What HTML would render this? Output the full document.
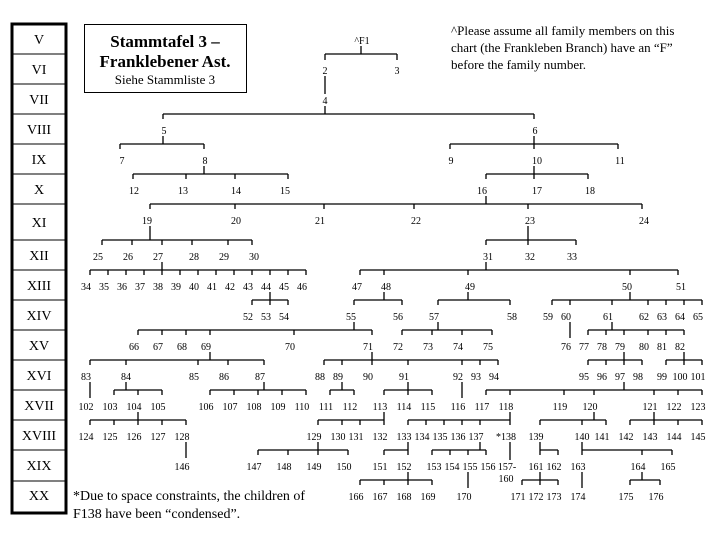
<!DOCTYPE html>
<html><head><meta charset="utf-8"><style>
html,body{margin:0;padding:0;background:#fff;width:720px;height:540px;overflow:hidden}
svg{display:block}
</style></head><body>
<svg width="720" height="540" viewBox="0 0 720 540" xmlns="http://www.w3.org/2000/svg">
<rect width="720" height="540" fill="#fff"/>
<!-- generation column -->
<rect x="12" y="24" width="54" height="489" fill="none" stroke="#000" stroke-width="3"/>
<path d="M12 54H66M12 84H66M12 114H66M12 144H66M12 174H66M12 204H66M12 240H66M12 270H66M12 300H66M12 330H66M12 360H66M12 390H66M12 420H66M12 450H66M12 481H66" stroke="#000" stroke-width="1"/>
<g font-family="Liberation Serif, serif" font-size="14" text-anchor="middle" fill="#000">
<text x="39" y="44">V</text><text x="39" y="74">VI</text><text x="39" y="104">VII</text><text x="39" y="134">VIII</text><text x="39" y="164">IX</text><text x="39" y="194">X</text><text x="39" y="227">XI</text><text x="39" y="260">XII</text><text x="39" y="290">XIII</text><text x="39" y="320">XIV</text><text x="39" y="350">XV</text><text x="39" y="380">XVI</text><text x="39" y="410">XVII</text><text x="39" y="440">XVIII</text><text x="39" y="470">XIX</text><text x="39" y="500">XX</text>
</g>
<!-- title -->
<rect x="84.5" y="24.5" width="162" height="68" fill="none" stroke="#000" stroke-width="1"/>
<g font-family="Liberation Serif, serif" text-anchor="middle" fill="#000">
<text x="165" y="47" font-size="17" font-weight="bold">Stammtafel 3 –</text>
<text x="165" y="67" font-size="17" font-weight="bold">Franklebener Ast.</text>
<text x="165" y="84" font-size="13">Siehe Stammliste 3</text>
</g>
<g font-family="Liberation Serif, serif" font-size="13" fill="#000">
<text x="451" y="35">^Please assume all family members on this</text>
<text x="451" y="52">chart (the Frankleben Branch) have an “F”</text>
<text x="451" y="69">before the family number.</text>
<text x="73" y="500" font-size="14">*Due to space constraints, the children of</text>
<text x="73" y="518" font-size="14">F138 have been “condensed”.</text>
</g>
<!-- connectors -->
<path fill="none" stroke="#000" stroke-width="1.3" d="
M325 54H397M325 54v6M397 54v6M361 46V54
M325 76V94
M163 114H534M163 114v5M534 114v5M325 106V114
M120 144H204M120 144v5M204 144v5M163 136V144
M450 144H618M450 144v5M534 136V149M618 144v5
M133 174H288M133 174v5M186 174v5M235 174v5M288 174v5M204 166V174
M486 174H588M486 174v5M534 166V179M588 174v5
M150 204H642M150 204v5M235 204v5M324 204v5M414 204v5M528 204v5M642 204v5M486 196V204
M102 240H252M102 240v5M132 240v5M162 240v5M192 240v5M228 240v5M252 240v5M150 226V240
M486 240H576M486 240v5M528 226V245M576 240v5
M90 270H306M90 270v5M108 270v5M126 270v5M144 270v5M162 262V275M180 270v5M198 270v5M216 270v5M234 270v5M252 270v5M270 270v5M288 270v5M306 270v5
M360 270H678M360 270v5M384 270v5M468 270v5M630 270v5M678 270v5M486 262V270
M252 300H288M252 300v5M270 292V305M288 300v5
M354 300H402M354 300v5M402 300v5M384 292V300
M438 300H510M438 300v5M510 300v5M468 292V300
M552 300H702M552 300v5M570 300v5M612 300v5M648 300v5M666 300v5M684 300v5M702 300v5M630 292V300
M138 330H372M138 330v5M162 330v5M186 330v5M210 330v5M294 330v5M372 330v5M354 322V330
M402 330H492M402 330v5M432 330v5M462 330v5M492 330v5M438 322V330
M570 322V338
M588 330H684M588 330v5M606 330v5M624 330v5M648 330v5M666 330v5M684 330v5M612 322V330
M90 360H264M90 360v5M126 360v5M198 360v5M228 360v5M264 360v5M210 352V360
M324 360H498M324 360v5M342 360v5M372 352V365M408 360v5M462 360v5M480 360v5M498 360v5
M588 360H642M588 360v5M606 360v5M624 352V365M642 360v5
M666 360H702M666 360v5M684 352V365M702 360v5
M90 382V398
M114 390H162M114 390v5M138 390v5M162 390v5M126 382V390
M210 390H306M210 390v5M234 390v5M258 390v5M282 390v5M306 390v5M264 382V390
M330 390H354M330 390v5M354 390v5M342 382V390
M384 390H432M384 390v5M408 382V395M432 390v5
M462 382V398
M486 390H702M486 390v5M510 390v5M564 390v5M594 390v5M654 390v5M678 390v5M702 390v5M624 382V390
M90 420H186M90 420v5M114 420v5M138 412V425M162 420v5M186 420v5
M318 420H384M318 420v5M342 420v5M360 420v5M384 412V425
M408 420H510M408 420v5M426 420v5M444 420v5M462 420v5M480 420v5M510 412V425
M540 420H606M540 420v5M582 420v5M606 420v5M594 412V420
M630 420H702M630 420v5M654 412V425M678 420v5M702 420v5
M186 442V458
M258 450H348M258 450v5M288 450v5M318 442V455M348 450v5
M384 450H408M384 450v5M408 442V455
M432 450H486M432 450v5M450 450v5M468 450v5M486 450v5M480 442V450
M510 442V460
M540 442V455M540 450H558M558 450v5
M582 442V455M582 450H672M642 450v5M672 450v5
M360 480H432M360 480v5M384 480v5M408 472V485M432 480v5
M468 472V488
M522 480H558M522 480v5M540 472V485M558 480v5
M582 472V488
M630 480H660M630 480v5M660 480v5M642 472V480
"/>
<!-- numbers -->
<g font-family="Liberation Serif, serif" font-size="10" text-anchor="middle" fill="#000">
<text x="362" y="44">^F1</text>
<text x="325" y="74">2</text><text x="397" y="74">3</text>
<text x="325" y="104">4</text>
<text x="164" y="134">5</text><text x="535" y="134">6</text>
<text x="122" y="164">7</text><text x="205" y="164">8</text><text x="451" y="164">9</text><text x="537" y="164">10</text><text x="620" y="164">11</text>
<text x="134" y="194">12</text><text x="183" y="194">13</text><text x="236" y="194">14</text><text x="285" y="194">15</text><text x="482" y="194">16</text><text x="537" y="194">17</text><text x="590" y="194">18</text>
<text x="147" y="224">19</text><text x="236" y="224">20</text><text x="320" y="224">21</text><text x="416" y="224">22</text><text x="530" y="224">23</text><text x="644" y="224">24</text>
<text x="98" y="260">25</text><text x="128" y="260">26</text><text x="158" y="260">27</text><text x="194" y="260">28</text><text x="224" y="260">29</text><text x="254" y="260">30</text><text x="488" y="260">31</text><text x="530" y="260">32</text><text x="572" y="260">33</text>
<text x="86" y="290">34</text><text x="104" y="290">35</text><text x="122" y="290">36</text><text x="140" y="290">37</text><text x="158" y="290">38</text><text x="176" y="290">39</text><text x="194" y="290">40</text><text x="212" y="290">41</text><text x="230" y="290">42</text><text x="248" y="290">43</text><text x="266" y="290">44</text><text x="284" y="290">45</text><text x="302" y="290">46</text>
<text x="357" y="290">47</text><text x="386" y="290">48</text><text x="470" y="290">49</text><text x="627" y="290">50</text><text x="681" y="290">51</text>
<text x="248" y="320">52</text><text x="266" y="320">53</text><text x="284" y="320">54</text><text x="351" y="320">55</text><text x="398" y="320">56</text><text x="434" y="320">57</text><text x="512" y="320">58</text><text x="548" y="320">59</text><text x="566" y="320">60</text><text x="608" y="320">61</text><text x="644" y="320">62</text><text x="662" y="320">63</text><text x="680" y="320">64</text><text x="698" y="320">65</text>
<text x="134" y="350">66</text><text x="158" y="350">67</text><text x="182" y="350">68</text><text x="206" y="350">69</text><text x="290" y="350">70</text><text x="368" y="350">71</text><text x="398" y="350">72</text><text x="428" y="350">73</text><text x="458" y="350">74</text><text x="488" y="350">75</text><text x="566" y="350">76</text><text x="584" y="350">77</text><text x="602" y="350">78</text><text x="620" y="350">79</text><text x="644" y="350">80</text><text x="662" y="350">81</text><text x="680" y="350">82</text>
<text x="86" y="380">83</text><text x="126" y="380">84</text><text x="194" y="380">85</text><text x="224" y="380">86</text><text x="260" y="380">87</text><text x="320" y="380">88</text><text x="338" y="380">89</text><text x="368" y="380">90</text><text x="404" y="380">91</text><text x="458" y="380">92</text><text x="476" y="380">93</text><text x="494" y="380">94</text><text x="584" y="380">95</text><text x="602" y="380">96</text><text x="620" y="380">97</text><text x="638" y="380">98</text><text x="662" y="380">99</text><text x="680" y="380">100</text><text x="698" y="380">101</text>
<text x="86" y="410">102</text><text x="110" y="410">103</text><text x="134" y="410">104</text><text x="158" y="410">105</text><text x="206" y="410">106</text><text x="230" y="410">107</text><text x="254" y="410">108</text><text x="278" y="410">109</text><text x="302" y="410">110</text><text x="326" y="410">111</text><text x="350" y="410">112</text><text x="380" y="410">113</text><text x="404" y="410">114</text><text x="428" y="410">115</text><text x="458" y="410">116</text><text x="482" y="410">117</text><text x="506" y="410">118</text><text x="560" y="410">119</text><text x="590" y="410">120</text><text x="650" y="410">121</text><text x="674" y="410">122</text><text x="698" y="410">123</text>
<text x="86" y="440">124</text><text x="110" y="440">125</text><text x="134" y="440">126</text><text x="158" y="440">127</text><text x="182" y="440">128</text><text x="314" y="440">129</text><text x="338" y="440">130</text><text x="356" y="440">131</text><text x="380" y="440">132</text><text x="404" y="440">133</text><text x="422" y="440">134</text><text x="440" y="440">135</text><text x="458" y="440">136</text><text x="476" y="440">137</text><text x="506" y="440">*138</text><text x="536" y="440">139</text><text x="582" y="440">140</text><text x="602" y="440">141</text><text x="626" y="440">142</text><text x="650" y="440">143</text><text x="674" y="440">144</text><text x="698" y="440">145</text>
<text x="182" y="470">146</text><text x="254" y="470">147</text><text x="284" y="470">148</text><text x="314" y="470">149</text><text x="344" y="470">150</text><text x="380" y="470">151</text><text x="404" y="470">152</text><text x="434" y="470">153</text><text x="452" y="470">154</text><text x="470" y="470">155</text><text x="488" y="470">156</text><text x="507" y="470">157-</text><text x="506" y="482">160</text><text x="536" y="470">161</text><text x="554" y="470">162</text><text x="578" y="470">163</text><text x="638" y="470">164</text><text x="668" y="470">165</text>
<text x="356" y="500">166</text><text x="380" y="500">167</text><text x="404" y="500">168</text><text x="428" y="500">169</text><text x="464" y="500">170</text><text x="518" y="500">171</text><text x="536" y="500">172</text><text x="554" y="500">173</text><text x="578" y="500">174</text><text x="626" y="500">175</text><text x="656" y="500">176</text>
</g>
</svg>
</body></html>
